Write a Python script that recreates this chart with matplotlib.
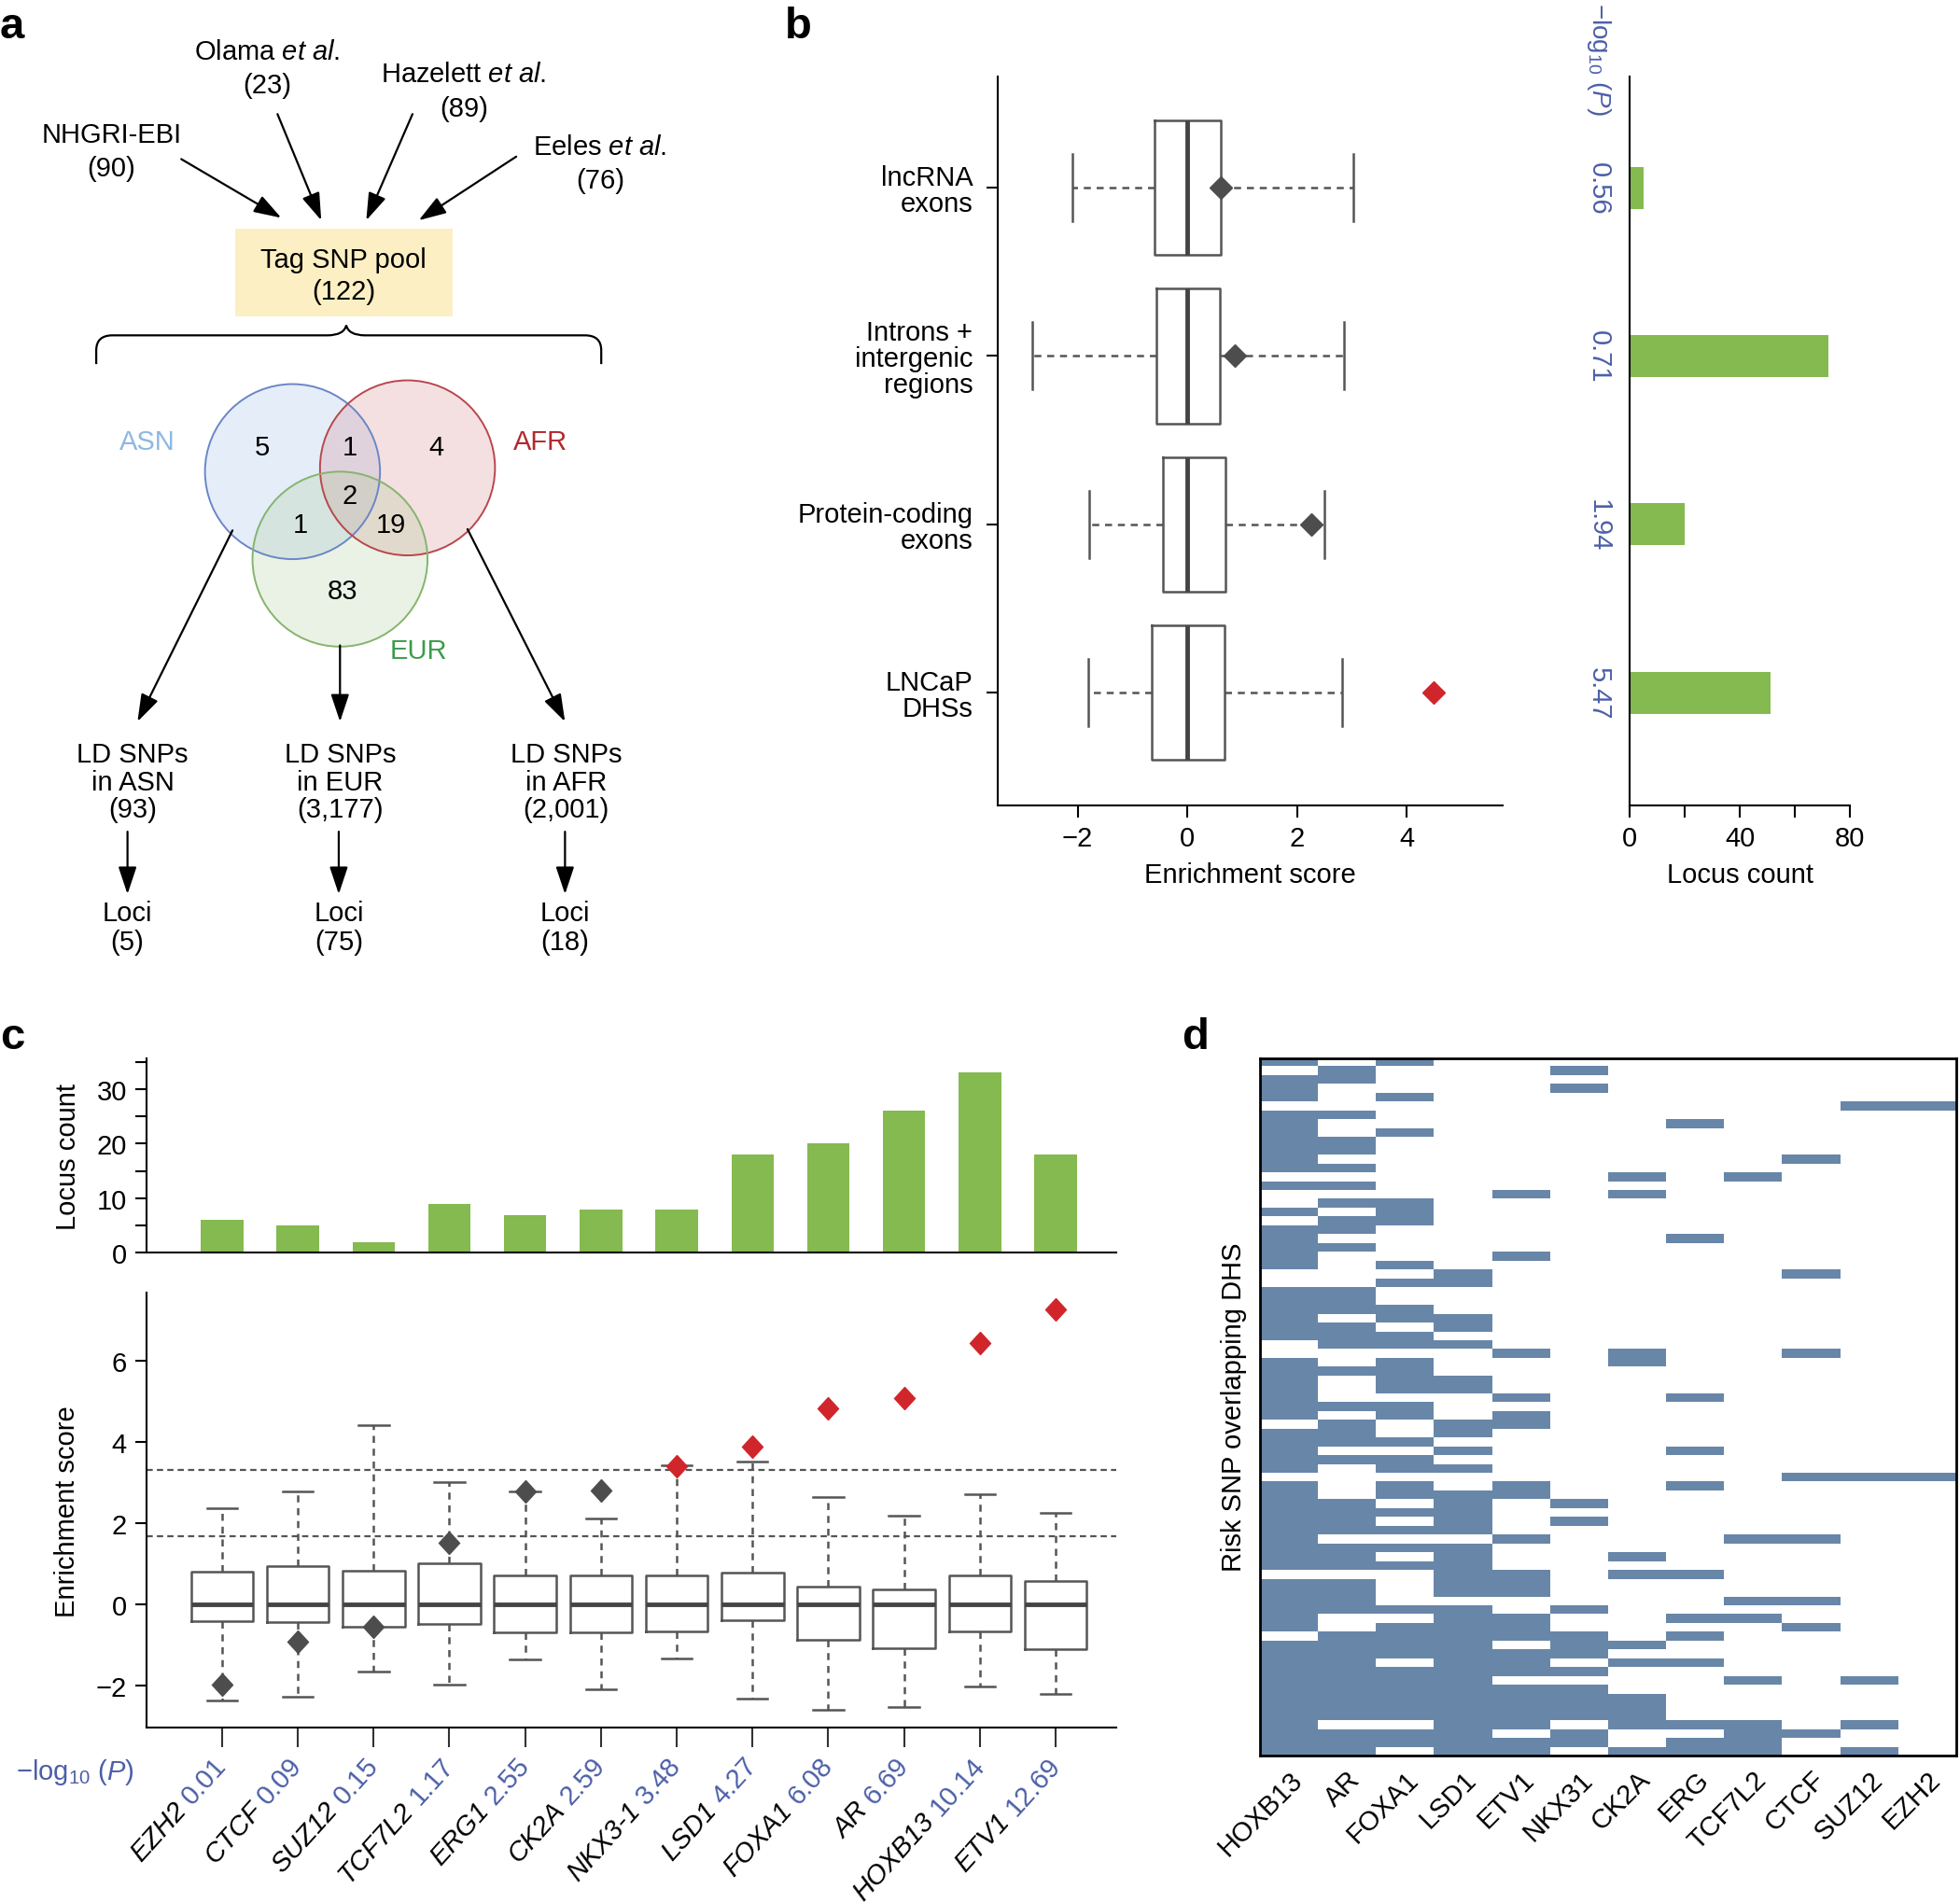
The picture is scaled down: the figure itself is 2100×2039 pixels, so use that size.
import numpy as np
import matplotlib
matplotlib.use('Agg')
import matplotlib.pyplot as plt
from matplotlib.patches import Circle, Rectangle, PathPatch
from matplotlib.path import Path
from matplotlib.colors import ListedColormap
from matplotlib.markers import MarkerStyle
from matplotlib.transforms import blended_transform_factory, Affine2D

plt.rcParams['font.family'] = ['Liberation Sans', 'DejaVu Sans']
plt.rcParams['mathtext.fontset'] = 'custom'
plt.rcParams['mathtext.rm'] = 'Liberation Sans'
plt.rcParams['mathtext.it'] = 'Liberation Sans:italic'
plt.rcParams['mathtext.default'] = 'regular'
plt.rcParams['font.size'] = 21
plt.rcParams['axes.linewidth'] = 1.5

# ---------------- data ----------------
# panel a
src_names = ['NHGRI-EBI', 'Olama', 'Hazelett', 'Eeles']
src_etal = [False, True, True, True]
src_counts = [90, 23, 89, 76]
pool_total = 122
venn_regions = ['ASN', 'ASN+AFR', 'AFR', 'ALL', 'ASN+EUR', 'AFR+EUR', 'EUR']
venn_counts = [5, 1, 4, 2, 1, 19, 83]
pops = ['ASN', 'EUR', 'AFR']
ld_snps = ['93', '3,177', '2,001']
loci = [5, 75, 18]

# panel b
b_labels = ['lncRNA\nexons', 'Introns +\nintergenic\nregions', 'Protein-coding\nexons', 'LNCaP\nDHSs']
b_q1 = [-0.60, -0.57, -0.44, -0.65]
b_med = [0.0, 0.0, 0.0, 0.0]
b_q3 = [0.61, 0.60, 0.69, 0.68]
b_wlo = [-2.10, -2.83, -1.79, -1.81]
b_whi = [3.03, 2.86, 2.51, 2.83]
b_obs = [0.61, 0.86, 2.26, 4.49]
b_sig = [False, False, False, True]
b_pvals = ['0.56', '0.71', '1.94', '5.47']
b_locus = [5, 72, 20, 51]

# panel c
c_genes = ['EZH2', 'CTCF', 'SUZ12', 'TCF7L2', 'ERG1', 'CK2A', 'NKX3-1', 'LSD1', 'FOXA1', 'AR', 'HOXB13', 'ETV1']
c_pvals = ['0.01', '0.09', '0.15', '1.17', '2.55', '2.59', '3.48', '4.27', '6.08', '6.69', '10.14', '12.69']
c_locus = [6, 5, 2, 9, 7, 8, 8, 18, 20, 26, 33, 18]
c_q1 = [-0.41, -0.45, -0.56, -0.50, -0.70, -0.70, -0.68, -0.39, -0.87, -1.08, -0.68, -1.11]
c_med = [0.0] * 12
c_q3 = [0.79, 0.93, 0.83, 1.00, 0.70, 0.70, 0.70, 0.77, 0.44, 0.36, 0.70, 0.56]
c_wlo = [-2.37, -2.29, -1.65, -1.99, -1.37, -2.09, -1.35, -2.32, -2.61, -2.53, -2.03, -2.22]
c_whi = [2.37, 2.77, 4.41, 3.00, 2.78, 2.11, 3.42, 3.50, 2.63, 2.18, 2.71, 2.24]
c_obs = [-1.98, -0.92, -0.56, 1.50, 2.78, 2.80, 3.40, 3.88, 4.81, 5.07, 6.43, 7.25]
c_sig = [False] * 6 + [True] * 6
c_thresholds = [1.66, 3.30]

# panel d
d_factors = ['HOXB13', 'AR', 'FOXA1', 'LSD1', 'ETV1', 'NKX31', 'CK2A', 'ERG', 'TCF7L2', 'CTCF', 'SUZ12', 'EZH2']
d_rows = [
    "101000000000", "010001000000", "110000000000", "100001000000", "101000000000",
    "000000000011", "110000000000", "100000010000", "101000000000", "110000000000",
    "110000000000", "100000000100", "110000000000", "000000101000", "110000000000",
    "000010100000", "011000000000", "101000000000", "011000000000", "110000000000",
    "100000010000", "110000000000", "100010000000", "101000000000", "000100000100",
    "001100000000", "110000000000", "110000000000", "111000000000", "101100000000",
    "110100000000", "111000000000", "011100000000", "000010100100", "101000100000",
    "111000000000", "101100000000", "101100000000", "100010010000", "111000000000",
    "101010000000", "010110000000", "110100000000", "111000000000", "100100010000",
    "111000000000", "101100000000", "000000000111", "101010010000", "101110000000",
    "110101000000", "111100000000", "110101000000", "111100000000", "100010001100",
    "111100000000", "110100100000", "111100000000", "000110110000", "110110000000",
    "110110000000", "110000001100", "111101000000", "100110011000", "101110000100",
    "011111010000", "111101100000", "111111000000", "110110110000", "111111000000",
    "111100001010", "111111000000", "111111100000", "111111100000", "111111100000",
    "100110111010", "111101001100", "111111011000", "110110111010",
]

green = '#84ba50'
blue_txt = '#4c5fa8'
red = '#d0262b'
gray = '#4d4d4d'
boxc = '#555555'
heat = '#6886a8'

# layout grid in reference units (reference px / 1.339)
W, H = 1568, 1523
fig = plt.figure(figsize=(21, 20.4), dpi=100)


def rect(x0, y0, x1, y1):
    return [x0 / W, 1 - y1 / H, (x1 - x0) / W, (y1 - y0) / H]


# ---------------- panel a (diagram) ----------------
axa = fig.add_axes([0, 0, 1, 1])
axa.set_xlim(0, W)
axa.set_ylim(H, 0)
axa.axis('off')

for letter, (x, y) in zip('abcd', [(0, 22), (628, 22), (0, 830), (945, 830)]):
    axa.text(x, y, letter, fontsize=34, fontweight='bold', ha='left', va='center')


def arrow(p0, p1):
    axa.annotate('', xy=p1, xytext=p0,
                 arrowprops=dict(arrowstyle='-|>,head_length=0.9,head_width=0.3',
                                 lw=1.6, color='k', shrinkA=0, shrinkB=0, mutation_scale=20))


src_xy = [(89, 108), (214, 42), (371, 60), (480, 118)]
src_arrows = [((145, 128), (225, 175)), ((222, 92), (257, 177)),
              ((330, 92), (293, 177)), ((413, 126), (335, 177))]
for name, etal, n, (x, y), (p0, p1) in zip(src_names, src_etal, src_counts, src_xy, src_arrows):
    label = name + (r' $\it{et\ al}$.' if etal else '')
    axa.text(x, y, label, ha='center', va='center')
    axa.text(x, y + 27, f'({n})', ha='center', va='center')
    arrow(p0, p1)

axa.add_patch(Rectangle((188, 184), 174, 70, facecolor='#fcefc3', edgecolor='none'))
axa.text(275, 208, 'Tag SNP pool', ha='center', va='center')
axa.text(275, 234, f'({pool_total})', ha='center', va='center')

brace_v = [(77, 292), (77, 281), (77, 269), (90, 269), (262, 269), (275, 269), (277, 261),
           (279, 269), (292, 269), (468, 269), (481, 269), (481, 281), (481, 292)]
brace_c = [Path.MOVETO, Path.LINETO, Path.CURVE3, Path.CURVE3, Path.LINETO, Path.CURVE3, Path.CURVE3,
           Path.CURVE3, Path.CURVE3, Path.LINETO, Path.CURVE3, Path.CURVE3, Path.LINETO]
axa.add_patch(PathPatch(Path(brace_v, brace_c), facecolor='none', edgecolor='k', lw=1.6))

circles = [((234, 378), (0.55, 0.68, 0.9, 0.22), '#6b86c6'),
           ((326, 375), (0.82, 0.45, 0.47, 0.22), '#b8474d'),
           ((272, 448), (0.62, 0.78, 0.52, 0.22), '#86b46e')]
for c, fc, ec in circles:
    axa.add_patch(Circle(c, 70, facecolor=fc, edgecolor='none'))
for c, fc, ec in circles:
    axa.add_patch(Circle(c, 70, facecolor='none', edgecolor=ec, lw=1.4))

venn_xy = [(210, 358), (280, 358), (349, 358), (280, 397), (240, 420), (313, 420), (274, 473)]
for v, (x, y) in zip(venn_counts, venn_xy):
    axa.text(x, y, str(v), ha='center', va='center')

axa.text(118, 354, 'ASN', ha='center', va='center', color='#8db8e2')
axa.text(432, 354, 'AFR', ha='center', va='center', color='#b3272e')
axa.text(335, 521, 'EUR', ha='center', va='center', color='#3d9b4b')

pop_arrows = [((186, 425), (110, 578)), ((272, 517), (272, 578)), ((374, 424), (452, 578))]
ld_x = [106, 272, 453]
loci_x = [102, 271, 452]
for pop, n, nl, (p0, p1), x, xl in zip(pops, ld_snps, loci, pop_arrows, ld_x, loci_x):
    arrow(p0, p1)
    for txt, y in zip(['LD SNPs', f'in {pop}', f'({n})'], [604, 626, 648]):
        axa.text(x, y, txt, ha='center', va='center')
    arrow((xl, 666), (xl, 716))
    axa.text(xl, 731, 'Loci', ha='center', va='center')
    axa.text(xl, 754, f'({nl})', ha='center', va='center')

# ---------------- panel b ----------------
axb = fig.add_axes(rect(798, 62, 1202, 645))
pos_b = np.arange(1, len(b_labels) + 1)
stats_b = [dict(med=m, q1=a, q3=b, whislo=lo, whishi=hi, fliers=[])
           for m, a, b, lo, hi in zip(b_med, b_q1, b_q3, b_wlo, b_whi)]
bkw = dict(positions=pos_b, widths=0.8, capwidths=0.4, patch_artist=False,
           boxprops=dict(color=boxc, lw=1.8),
           whiskerprops=dict(color=boxc, lw=1.8, ls=(0, (3, 2.5))),
           capprops=dict(color=boxc, lw=1.8),
           medianprops=dict(color='#444444', lw=3.5))
try:
    axb.bxp(stats_b, orientation='horizontal', **bkw)
except TypeError:
    axb.bxp(stats_b, vert=False, **bkw)
for x, y, s in zip(b_obs, pos_b, b_sig):
    axb.plot(x, y, 'D', ms=12, color=red if s else gray, zorder=5)
axb.set_xlim(-3.46, 5.75)
axb.set_ylim(4.67, 0.34)
axb.set_xticks([-2, 0, 2, 4])
axb.set_yticks(pos_b)
axb.set_yticklabels(b_labels)
for lbl in axb.get_yticklabels():
    lbl.set_linespacing(1.0)
axb.tick_params(length=9, width=1.5, pad=6)
axb.tick_params(axis='y', pad=10)
for s in ['top', 'right']:
    axb.spines[s].set_visible(False)
axb.set_xlabel('Enrichment score', labelpad=8)

axb2 = fig.add_axes(rect(1304, 62, 1480, 645))
axb2.barh(pos_b, b_locus, height=0.25, color=green)
axb2.set_xlim(0, 80)
axb2.set_ylim(4.67, 0.34)
axb2.set_xticks([0, 40, 80])
axb2.set_xticks([20, 60], minor=True)
axb2.set_yticks([])
axb2.tick_params(axis='x', which='both', length=9, width=1.5, pad=6)
for s in ['top', 'right']:
    axb2.spines[s].set_visible(False)
axb2.set_xlabel('Locus count', labelpad=8)
trb = blended_transform_factory(axb2.transAxes, axb2.transData)
p_x = (1279 - 1304) / (1480 - 1304)
for y, p in zip(pos_b, b_pvals):
    axb2.text(p_x, y, p, transform=trb, rotation=270, ha='center', va='center', color=blue_txt)
axb2.text(p_x, (645 - 2) / 583, r'$-$log$_{10}$ ($\it{P}$)', transform=axb2.transAxes, rotation=270,
          rotation_mode='anchor', ha='left', va='center', color=blue_txt, fontsize=20)

# ---------------- panel c ----------------
pos_c = np.arange(1, len(c_genes) + 1)
axct = fig.add_axes(rect(117, 847, 893, 1003))
axct.bar(pos_c, c_locus, width=0.56, color=green)
axct.set_xlim(0, 12.8)
axct.set_ylim(0, 35.7)
axct.set_yticks([0, 10, 20, 30])
axct.set_yticks([5, 15, 25, 35], minor=True)
axct.tick_params(axis='y', which='both', length=9, width=1.5, pad=6)
axct.tick_params(axis='x', length=0, labelbottom=False)
for s in ['top', 'right']:
    axct.spines[s].set_visible(False)
axct.set_ylabel('Locus count', labelpad=12)

axcb = fig.add_axes(rect(117, 1035, 893, 1383))
stats_c = [dict(med=m, q1=a, q3=b, whislo=lo, whishi=hi, fliers=[])
           for m, a, b, lo, hi in zip(c_med, c_q1, c_q3, c_wlo, c_whi)]
ckw = dict(bkw)
ckw.update(positions=pos_c, widths=0.82, capwidths=0.4)
axcb.bxp(stats_c, **ckw)
for t in c_thresholds:
    axcb.axhline(t, color='#555555', lw=1.6, ls=(0, (3, 2)), zorder=1)
diamond = MarkerStyle('D', transform=Affine2D().scale(0.88, 1.0))
for x, y, s in zip(pos_c, c_obs, c_sig):
    axcb.plot(x, y, marker=diamond, ms=12.5, ls='none', color=red if s else gray, zorder=5)
axcb.set_xlim(0, 12.8)
axcb.set_ylim(-3.05, 7.66)
axcb.set_yticks([-2, 0, 2, 4, 6])
axcb.set_xticks(pos_c)
axcb.set_xticklabels([])
axcb.tick_params(axis='y', length=9, width=1.5, pad=6)
axcb.tick_params(axis='x', length=15, width=1.5, color='#333333')
for s in ['top', 'right']:
    axcb.spines[s].set_visible(False)
axcb.set_ylabel('Enrichment score', labelpad=12)

# two-colour rotated labels: gene name (italic, black) + p value (blue)
renderer = fig.canvas.get_renderer()
ang = 48
trc = blended_transform_factory(axcb.transData, axcb.transAxes)
for x, g, p in zip(pos_c, c_genes, c_pvals):
    tmp = fig.text(0, 0, p + ' ')
    w = tmp.get_window_extent(renderer=renderer).width
    tmp.remove()
    axcb.text(x, -0.075, p, transform=trc, rotation=ang, rotation_mode='anchor',
              ha='right', va='center', color=blue_txt)
    axcb.annotate(g, xy=(x, -0.075), xycoords=trc,
                  xytext=(-w * np.cos(np.radians(ang)), -w * np.sin(np.radians(ang))),
                  textcoords='offset pixels', rotation=ang, rotation_mode='anchor',
                  ha='right', va='center', style='italic')
axa.text(60, 1418, r'$-$log$_{10}$ ($\it{P}$)', ha='center', va='center', color=blue_txt)

# ---------------- panel d ----------------
mat = np.array([[int(ch) for ch in r] for r in d_rows])
axd = fig.add_axes(rect(1008, 847, 1565, 1405))
axd.imshow(mat, cmap=ListedColormap(['white', heat]), aspect='auto', interpolation='nearest')
axd.set_xticks(np.arange(len(d_factors)))
axd.set_xticklabels(d_factors, rotation=45, ha='right', rotation_mode='anchor')
axd.set_yticks([])
axd.tick_params(axis='x', length=0, pad=8)
for s in axd.spines.values():
    s.set_linewidth(2)
axd.set_ylabel('Risk SNP overlapping DHS', labelpad=10)

fig.savefig('out.png', dpi=100)
